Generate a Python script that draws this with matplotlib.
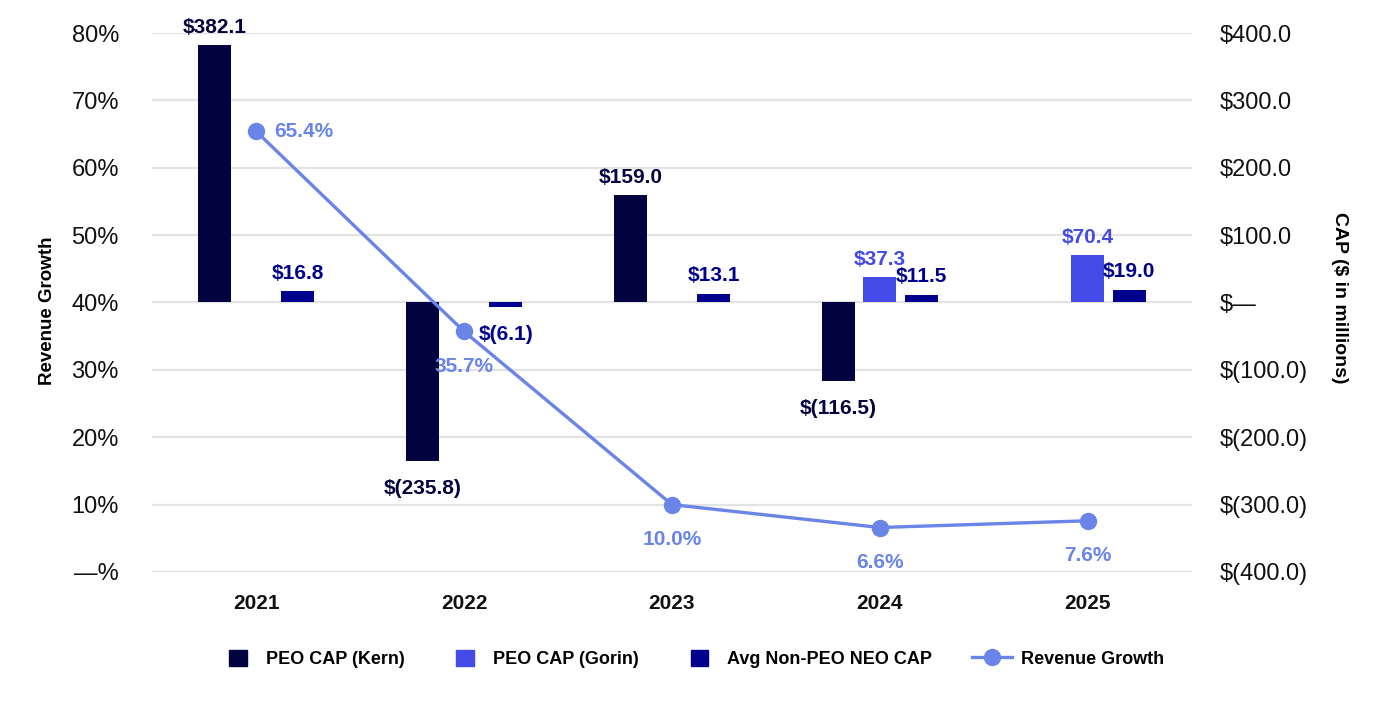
import numpy as np
import matplotlib.pyplot as plt
from matplotlib.patches import Rectangle
from matplotlib.legend_handler import HandlerPatch
from matplotlib.ticker import FuncFormatter, MultipleLocator

plt.rcParams['font.family'] = ['Liberation Sans', 'DejaVu Sans']

# data
years = ['2021', '2022', '2023', '2024', '2025']
peo_kern = [382.1, -235.8, 159.0, -116.5, np.nan]
peo_gorin = [np.nan, np.nan, np.nan, 37.3, 70.4]
avg_neo = [16.8, -6.1, 13.1, 11.5, 19.0]
revenue_growth = [65.4, 35.7, 10.0, 6.6, 7.6]

c_kern = '#03033f'
c_gorin = '#434ae6'
c_neo = '#00008f'
c_line = '#6a84e8'


def cap_fmt(v):
    if v == 0:
        return '$\u2014'
    if v < 0:
        return '$(%.1f)' % -v
    return '$%.1f' % v


fig = plt.figure(figsize=(13.84, 7.10), dpi=100)
ax = fig.add_axes([0.110, 0.1944, 0.751, 0.7591])
ax2 = ax.twinx()

x = np.arange(len(years))
w = 0.16
off = 0.2

series = [(peo_kern, -off, c_kern, 'PEO CAP (Kern)'),
          (peo_gorin, 0.0, c_gorin, 'PEO CAP (Gorin)'),
          (avg_neo, off, c_neo, 'Avg Non-PEO NEO CAP')]

handles = []
for vals, dx, col, name in series:
    ax2.bar(x + dx, vals, width=w, color=col, zorder=2)
    handles.append(Rectangle((0, 0), 1, 1, color=col, label=name))
    for xi, v in zip(x, vals):
        if np.isnan(v):
            continue
        if v >= 0:
            ax2.annotate(cap_fmt(v), (xi + dx, v), xytext=(0, 6), textcoords='offset points',
                         ha='center', va='bottom', fontsize=15, fontweight='bold', color=col, zorder=5)
        else:
            ax2.annotate(cap_fmt(v), (xi + dx, v), xytext=(0, -13), textcoords='offset points',
                         ha='center', va='top', fontsize=15, fontweight='bold', color=col, zorder=5)

ax2.set_ylim(-400, 400)
ax2.yaxis.set_major_locator(MultipleLocator(100))
ax2.yaxis.set_major_formatter(FuncFormatter(lambda v, p: cap_fmt(v)))
ax2.grid(axis='y', color='#e3e3e3', linewidth=1.6)
ax2.set_axisbelow(True)

# revenue growth line on top of the bars
ax.set_zorder(ax2.get_zorder() + 1)
ax.patch.set_visible(False)
line, = ax.plot(x, revenue_growth, color=c_line, linewidth=2.4, marker='o', markersize=11.5,
                label='Revenue Growth', zorder=4)
for i, v in enumerate(revenue_growth):
    if i == 0:
        ax.annotate('%.1f%%' % v, (x[i], v), xytext=(13, 0), textcoords='offset points',
                    ha='left', va='center', fontsize=15, fontweight='bold', color=c_line)
    else:
        ax.annotate('%.1f%%' % v, (x[i], v), xytext=(0, -25), textcoords='offset points',
                    ha='center', va='center', fontsize=15, fontweight='bold', color=c_line)

ax.set_ylim(0, 80)
ax.set_xlim(-0.5, len(years) - 0.5)
ax.yaxis.set_major_locator(MultipleLocator(10))
ax.yaxis.set_major_formatter(FuncFormatter(lambda v, p: '\u2014%' if v == 0 else '%d%%' % v))
ax.set_xticks(x)
ax.set_xticklabels(years, fontsize=15, fontweight='bold')

for a in (ax, ax2):
    for s in a.spines.values():
        s.set_visible(False)
    a.tick_params(length=0, colors='#111111')
ax.tick_params(axis='y', labelsize=17, pad=24)
ax.tick_params(axis='x', pad=16)
ax2.tick_params(axis='y', labelsize=17, pad=20)

ax.set_ylabel('Revenue Growth', fontsize=13.5, fontweight='bold')
ax.yaxis.set_label_coords(-0.0925, 0.485)
ax2.set_ylabel('CAP ($ in millions)', fontsize=14, fontweight='bold', rotation=270)
ax2.yaxis.set_label_coords(1.15, 0.508)


def bar_patch(legend, orig_handle, xdescent, ydescent, width, height, fontsize):
    return Rectangle((-xdescent + 0.3 * width, -ydescent), 0.45 * width, height)


fig.legend(handles + [line], [h.get_label() for h in handles] + ['Revenue Growth'],
           loc='center', bbox_to_anchor=(0.499, 0.072), ncol=4, frameon=False,
           prop={'size': 13, 'weight': 'bold'},
           handlelength=2.2, handleheight=1.0, handletextpad=0.5, columnspacing=2.2,
           handler_map={Rectangle: HandlerPatch(patch_func=bar_patch)})

fig.savefig('out.png', dpi=100)
